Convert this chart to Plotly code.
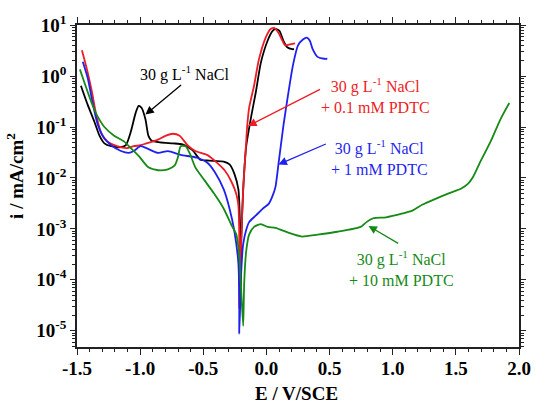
import plotly.graph_objects as go

# ---- data (E in V/SCE, log10 of i in mA/cm^2) ----
E_nacl = [-1.469, -1.415, -1.361, -1.322, -1.283, -1.229, -1.152, -1.113, -1.074, -1.035, -1.012, -0.989,
          -0.958, -0.935, -0.911, -0.842, -0.741, -0.664, -0.586, -0.524, -0.455, -0.338, -0.292, -0.253,
          -0.222, -0.215, -0.207, -0.203, -0.199, -0.184, -0.160, -0.122, -0.083, -0.044, 0.010, 0.049,
          0.072, 0.103, 0.134, 0.165, 0.204, 0.219]
logi_nacl = [-0.189, -0.566, -0.906, -1.170, -1.321, -1.377, -1.396, -1.358, -1.094, -0.717, -0.585, -0.623,
             -0.849, -1.170, -1.264, -1.302, -1.321, -1.340, -1.453, -1.642, -1.660, -1.679, -1.736, -1.925,
             -2.226, -2.491, -3.113, -4.100, -3.200, -2.226, -1.377, -0.811, -0.302, 0.264, 0.698, 0.887,
             0.925, 0.887, 0.698, 0.566, 0.528, 0.528]

E_01 = [-1.461, -1.423, -1.384, -1.345, -1.306, -1.260, -1.183, -1.105, -1.051, -0.997, -0.950, -0.873,
        -0.795, -0.741, -0.687, -0.625, -0.563, -0.470, -0.393, -0.331, -0.277, -0.238, -0.222, -0.215,
        -0.215, -0.199, -0.184, -0.160, -0.153, -0.137, -0.098, -0.060, -0.006, 0.033, 0.064, 0.095,
        0.126, 0.149, 0.188, 0.227]
logi_01 = [0.509, 0.151, -0.283, -0.792, -1.132, -1.283, -1.377, -1.415, -1.377, -1.358, -1.321, -1.264,
           -1.170, -1.132, -1.170, -1.358, -1.472, -1.547, -1.698, -1.849, -2.075, -2.321, -2.547, -3.170,
           -4.566, -3.170, -2.226, -1.283, -1.000, -0.623, -0.189, 0.321, 0.755, 0.925, 0.943, 0.849,
           0.698, 0.604, 0.623, 0.642]

E_1 = [-1.454, -1.415, -1.376, -1.337, -1.283, -1.229, -1.152, -1.090, -1.051, -0.997, -0.950, -0.857,
       -0.780, -0.679, -0.548, -0.470, -0.408, -0.338, -0.292, -0.253, -0.222, -0.215, -0.215, -0.199,
       -0.184, -0.160, -0.137, -0.083, -0.029, 0.018, 0.056, 0.072, 0.095, 0.134, 0.173, 0.211,
       0.250, 0.289, 0.320, 0.343, 0.366, 0.405, 0.459, 0.482]
logi_1 = [0.283, -0.038, -0.528, -0.943, -1.226, -1.358, -1.472, -1.509, -1.472, -1.377, -1.415, -1.509,
          -1.472, -1.547, -1.604, -1.698, -1.887, -2.226, -2.604, -3.057, -3.679, -4.434, -5.057, -3.811,
          -3.302, -3.019, -2.868, -2.736, -2.604, -2.509, -2.302, -2.170, -1.736, -0.981, -0.340, 0.226,
          0.604, 0.717, 0.755, 0.698, 0.528, 0.377, 0.340, 0.340]

E_10 = [-1.477, -1.438, -1.384, -1.337, -1.283, -1.206, -1.128, -1.074, -1.012, -0.935, -0.857, -0.780,
        -0.726, -0.702, -0.679, -0.640, -0.602, -0.563, -0.493, -0.416, -0.338, -0.277, -0.238, -0.215,
        -0.199, -0.184, -0.176, -0.160, -0.137, -0.098, -0.044, 0.010, 0.072, 0.173, 0.281, 0.405,
        0.560, 0.746, 0.792, 0.846, 0.947, 1.079, 1.156, 1.233, 1.334, 1.443, 1.543, 1.597,
        1.636, 1.698, 1.776, 1.853, 1.923]
logi_10 = [0.132, -0.151, -0.528, -0.792, -1.000, -1.170, -1.283, -1.415, -1.566, -1.792, -1.849, -1.830,
           -1.755, -1.604, -1.377, -1.377, -1.547, -1.792, -2.038, -2.302, -2.604, -2.925, -3.113, -3.547,
           -4.245, -4.906, -4.057, -3.434, -3.113, -2.962, -2.906, -2.962, -2.981, -3.075, -3.151, -3.113,
           -3.057, -2.962, -2.868, -2.792, -2.774, -2.698, -2.642, -2.528, -2.415, -2.302, -2.208, -2.113,
           -1.981, -1.660, -1.283, -0.849, -0.528]

x_ticks = [-1.5, -1.0, -0.5, 0.0, 0.5, 1.0, 1.5, 2.0]
y_exps = [-5, -4, -3, -2, -1, 0, 1]

series = [
    (E_nacl, logi_nacl, "#000000"),
    (E_01, logi_01, "#ee1c24"),
    (E_1, logi_1, "#1f1ff0"),
    (E_10, logi_10, "#168a16"),
]

FONT = "Liberation Serif"
YR = [-5.32, 1.003]
XR = [-1.5, 2.0]

minor_y = [k * 10.0 ** e for e in range(-6, 1) for k in range(2, 10)]
minor_x = [round(-1.5 + 0.1 * k, 2) for k in range(36)]

fig = go.Figure()
for E, li, col in series:
    fig.add_trace(go.Scatter(x=E, y=[10 ** v for v in li], mode="lines",
                             line=dict(color=col, width=1.8, shape="spline", smoothing=0.6),
                             showlegend=False, hoverinfo="skip"))

axis_line = dict(showline=True, linecolor="#222222", linewidth=1.5, showgrid=False, zeroline=False)
tfont = dict(size=19, family=FONT, weight="bold", color="black")

fig.update_layout(
    width=543, height=409,
    margin=dict(l=77, r=14, t=12, b=62),
    paper_bgcolor="white", plot_bgcolor="white",
    font=dict(family=FONT, color="black"),
    xaxis=dict(range=XR, tickvals=x_ticks,
               ticktext=[f"<b>{v:.1f}</b>" for v in x_ticks],
               ticks="outside", ticklen=6, tickwidth=1.3, tickcolor="#222222",
               tickfont=tfont, ticklabelstandoff=-3, mirror="ticks",
               minor=dict(tickvals=minor_x, ticks="outside", ticklen=3.5, tickwidth=1.2, tickcolor="#222222"),
               **axis_line),
    yaxis=dict(type="log", range=YR, tickvals=[10.0 ** e for e in y_exps],
               ticktext=[f"<b>10<sup>{e}</sup></b>" for e in y_exps],
               ticks="outside", ticklen=5, tickwidth=1.3, tickcolor="#222222",
               tickfont=tfont, mirror="ticks",
               minor=dict(tickvals=minor_y, ticks="outside", ticklen=3, tickwidth=1.1, tickcolor="#222222"),
               **axis_line),
)

# axis titles
fig.add_annotation(xref="paper", yref="paper", x=0.496, y=-0.143, text="<b>E / V/SCE</b>",
                   showarrow=False, font=dict(size=19, family=FONT, weight="bold"),
                   xanchor="center", yanchor="middle")
fig.add_annotation(xref="paper", yref="paper", x=-0.139, y=0.53, text="<b>i / mA/cm<sup>2</sup></b>",
                   showarrow=False, textangle=-90, font=dict(size=19, family=FONT, weight="bold"),
                   xanchor="center", yanchor="middle")

# labels
labels = [
    (-0.648, 0.057, "30 g L<sup>-1</sup> NaCl", "#000000"),
    (0.862, -0.377, "30 g L<sup>-1</sup> NaCl<br>+ 0.1 mM PDTC", "#ee1c24"),
    (0.893, -1.60, "30 g L<sup>-1</sup> NaCl<br>+ 1 mM PDTC", "#1f1ff0"),
    (1.071, -3.774, "30 g L<sup>-1</sup> NaCl<br>+ 10 mM PDTC", "#168a16"),
]
for x, y, t, c in labels:
    fig.add_annotation(x=x, y=y, xref="x", yref="y", text=t, showarrow=False,
                       font=dict(size=16, family=FONT, color=c), xanchor="center", yanchor="middle")

arrows = [
    (-0.958, -0.755, -0.664, -0.151, "#000000"),
    (-0.145, -0.981, 0.436, -0.245, "#ee1c24"),
    (0.095, -1.736, 0.482, -1.321, "#1f1ff0"),
    (0.808, -2.943, 1.055, -3.302, "#168a16"),
]
for hx, hy, tx, ty, c in arrows:
    fig.add_annotation(x=hx, y=hy, ax=tx, ay=ty, xref="x", yref="y", axref="x", ayref="y",
                       text="", showarrow=True, arrowhead=2, arrowsize=1.3, arrowwidth=1.3,
                       arrowcolor=c)

fig.write_html("out.html")
